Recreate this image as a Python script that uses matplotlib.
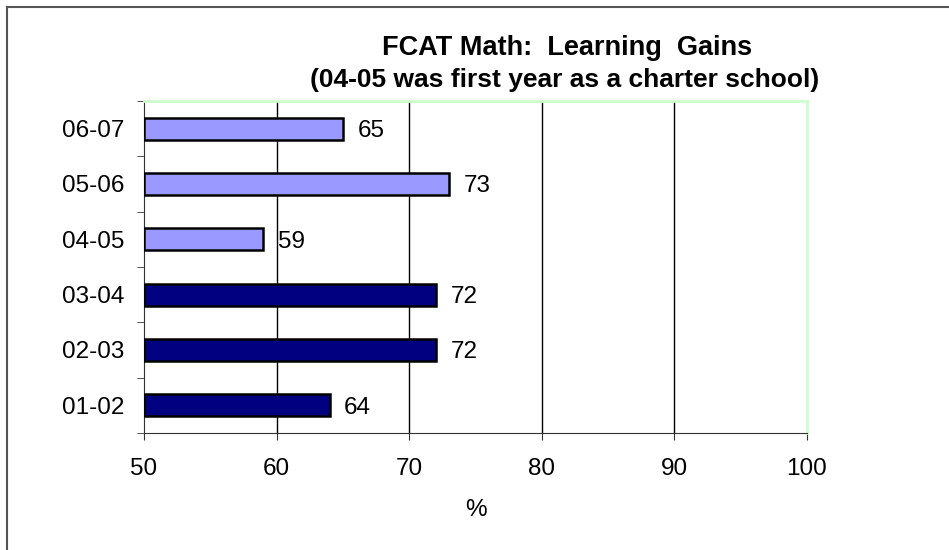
import matplotlib.pyplot as plt
from matplotlib.lines import Line2D

plt.rcParams["font.family"] = ["Liberation Sans", "DejaVu Sans"]

years = ["01-02", "02-03", "03-04", "04-05", "05-06", "06-07"]
gains = [64, 72, 72, 59, 73, 65]
colors = ["#000080", "#000080", "#000080", "#9999FF", "#9999FF", "#9999FF"]
x_ticks = [50, 60, 70, 80, 90, 100]


def main():
    fig = plt.figure(figsize=(9.49, 5.5), dpi=100)
    ax = fig.add_axes([144 / 949, 1 - 433 / 550, (807 - 144) / 949, (433 - 101) / 550])

    pos = list(range(len(years)))
    ax.barh(pos, [g - 50 for g in gains], left=50, height=0.4,
            color=colors, edgecolor="black", linewidth=1.8, zorder=3)
    for p, g in zip(pos, gains):
        ax.text(g + 1.1, p, str(g), va="center_baseline", ha="left", fontsize=17.5, zorder=4)

    ax.set_xlim(50, 100)
    ax.set_ylim(-0.5, len(years) - 0.5)
    ax.set_xticks(x_ticks)
    ax.set_yticks(pos)
    ax.set_yticklabels(years)
    ax.set_yticks([p - 0.5 for p in pos] + [len(years) - 0.5], minor=True)
    ax.tick_params(axis="y", which="major", length=0, pad=14, labelsize=17.5)
    ax.tick_params(axis="y", which="minor", length=5, direction="out", color="#333333")
    ax.tick_params(axis="x", length=5, direction="out", pad=13, labelsize=17.5, color="#333333")

    for v in x_ticks[1:-1]:
        ax.axvline(v, color="black", linewidth=1, zorder=1)

    ax.spines["top"].set_color("#ccffcc")
    ax.spines["right"].set_color("#ccffcc")
    ax.spines["top"].set_linewidth(2)
    ax.spines["right"].set_linewidth(2)
    ax.spines["left"].set_color("#333333")
    ax.spines["bottom"].set_color("#333333")

    ax.set_xlabel("%", fontsize=17.5, labelpad=14)

    fig.text(567 / 949, 1 - 48 / 550, "FCAT Math:  Learning  Gains", ha="center", va="center",
             fontsize=19.5, fontweight="bold")
    fig.text(565 / 949, 1 - 80 / 550, "(04-05 was first year as a charter school)", ha="center",
             va="center", fontsize=19, fontweight="bold")

    # outer frame, only top and left edges show
    fig.add_artist(Line2D([7 / 949, 1], [1 - 7 / 550, 1 - 7 / 550], transform=fig.transFigure,
                          color="#555555", linewidth=1.5))
    fig.add_artist(Line2D([7 / 949, 7 / 949], [0, 1 - 7 / 550], transform=fig.transFigure,
                          color="#555555", linewidth=1.5))

    fig.savefig("out.png", dpi=100)


if __name__ == "__main__":
    main()
